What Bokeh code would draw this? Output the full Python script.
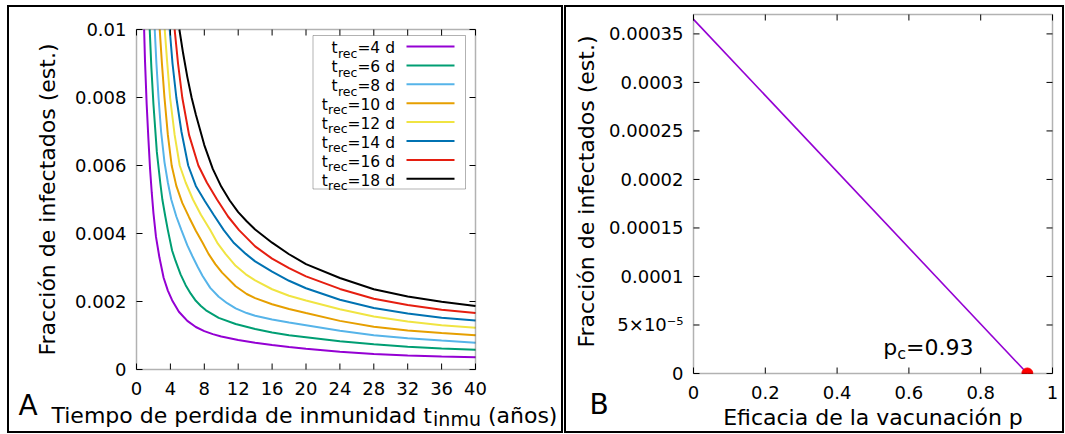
import math
from bokeh.plotting import figure
from bokeh.models import Range1d, Label, BoxAnnotation
from bokeh.core.properties import value
from bokeh.layouts import row
from bokeh.embed import file_html
from bokeh.resources import INLINE

# ---------------- data ----------------
t_rec_days = [4, 6, 8, 10, 12, 14, 16, 18]

t_inmu_4 = [0.9, 1.0, 1.2, 1.4, 1.6, 1.8, 2.0, 2.3, 2.7, 3.2, 3.7, 4.2, 5, 6, 7, 8, 9, 10,
            12, 14, 16, 18, 20, 24, 28, 32, 36, 40]
frac_4 = [0.0100, 0.0091, 0.0078, 0.0068, 0.0059, 0.0052, 0.0046, 0.0039, 0.0033, 0.0027,
          0.00232, 0.00204, 0.00170, 0.00143, 0.00125, 0.00113, 0.00104, 0.00097, 0.00087,
          0.00079, 0.00072, 0.00066, 0.00061, 0.00052, 0.000455, 0.000415, 0.000383, 0.00036]

t_inmu_6 = [1.56, 1.75, 2.0, 2.4, 2.8, 3.05, 3.4, 3.7, 4.2, 4.6, 5.2, 5.8, 6.4, 7.0, 7.6, 8.2,
            9.7, 11.7, 14, 16, 18, 20, 24, 28, 32, 36, 40]
frac_6 = [0.0100, 0.0089, 0.0078, 0.0064, 0.0055, 0.0050, 0.0045, 0.0041, 0.0035, 0.0032,
          0.0028, 0.00248, 0.00223, 0.00202, 0.00187, 0.00174, 0.00152, 0.00134, 0.00119,
          0.00109, 0.00101, 0.00095, 0.00083, 0.00074, 0.00067, 0.00062, 0.00058]

t_inmu_8 = [2.15, 2.35, 2.6, 2.9, 3.3, 3.7, 4.1, 4.7, 5.3, 6.0, 6.6, 7.2, 7.8, 8.7, 9.7, 10.7,
            11.7, 13, 14, 16, 18, 20, 24, 28, 32, 36, 40]
frac_8 = [0.0100, 0.0090, 0.0080, 0.0070, 0.0061, 0.0055, 0.0050, 0.0045, 0.0041, 0.00365,
          0.00333, 0.00303, 0.00275, 0.00240, 0.00214, 0.00195, 0.00180, 0.00166, 0.00158,
          0.00147, 0.00138, 0.00130, 0.00114, 0.00101, 0.00092, 0.00085, 0.00079]

t_inmu_10 = [2.74, 3.0, 3.3, 3.7, 4.15, 4.7, 5.4, 6.2, 7.0, 7.8, 8.5, 9.3, 10.1, 11.7, 13, 14,
             16, 18, 20, 24, 28, 32, 36, 40]
frac_10 = [0.0100, 0.0090, 0.0080, 0.0069, 0.0060, 0.0054, 0.0049, 0.00448, 0.00408, 0.00373,
           0.0034, 0.0031, 0.00285, 0.00245, 0.00222, 0.00210, 0.00192, 0.00178, 0.00166,
           0.00143, 0.00126, 0.00115, 0.00107, 0.00101]

t_inmu_12 = [3.33, 3.6, 3.96, 4.5, 5.1, 5.8, 6.66, 7.6, 8.7, 9.6, 10.5, 11.7, 12.9, 14, 16, 18,
             20, 24, 28, 32, 36, 40]
frac_12 = [0.0100, 0.0091, 0.0080, 0.0069, 0.0060, 0.0055, 0.0050, 0.00455, 0.0041, 0.0037,
           0.0034, 0.00305, 0.00280, 0.00262, 0.00236, 0.00217, 0.00203, 0.00177, 0.00156,
           0.00141, 0.00130, 0.00123]

t_inmu_14 = [3.92, 4.25, 4.7, 5.3, 6.1, 7.0, 8.08, 9.1, 10.3, 11.5, 12.9, 14, 16, 18, 20, 24,
             28, 32, 36, 40]
frac_14 = [0.0100, 0.0090, 0.0080, 0.0070, 0.0060, 0.0054, 0.00495, 0.00455, 0.0041, 0.00372,
           0.0034, 0.00318, 0.00288, 0.00261, 0.00239, 0.00205, 0.00181, 0.00165, 0.00152,
           0.00144]

t_inmu_16 = [4.5, 4.9, 5.4, 6.2, 7.3, 8.3, 9.5, 10.8, 12.1, 14, 16, 18, 20, 24, 28, 32, 36, 40]
frac_16 = [0.0100, 0.0090, 0.0080, 0.0069, 0.0060, 0.0055, 0.0050, 0.0045, 0.0041, 0.00362,
           0.00326, 0.00298, 0.00274, 0.00237, 0.00208, 0.00190, 0.00176, 0.00166]

t_inmu_18 = [5.06, 5.5, 6.0, 6.5, 7.0, 7.5, 8, 9, 10, 11, 12, 13, 14, 16, 18, 20, 24, 28, 32,
             36, 40]
frac_18 = [0.0100, 0.0093, 0.0086, 0.0080, 0.0075, 0.00705, 0.0066, 0.0059, 0.00538, 0.00497,
           0.00463, 0.00436, 0.00412, 0.00373, 0.00339, 0.00310, 0.00269, 0.00236, 0.00215,
           0.00199, 0.00187]

x_ticks_a = [0, 4, 8, 12, 16, 20, 24, 28, 32, 36, 40]
x_tick_labels_a = ["0", "4", "8", "12", "16", "20", "24", "28", "32", "36", "40"]
y_ticks_a = [0, 0.002, 0.004, 0.006, 0.008, 0.01]
y_tick_labels_a = ["0", "0.002", "0.004", "0.006", "0.008", "0.01"]

p_vac = [0.0, 0.93]
frac_vac = [0.000365, 0.0]
p_c = 0.93

x_ticks_b = [0, 0.2, 0.4, 0.6, 0.8, 1.0]
x_tick_labels_b = ["0", "0.2", "0.4", "0.6", "0.8", "1"]
y_ticks_b = [0, 0.00005, 0.0001, 0.00015, 0.0002, 0.00025, 0.0003, 0.00035]
y_tick_labels_b = ["0", "5×10⁻⁵", "0.0001", "0.00015", "0.0002", "0.00025", "0.0003", "0.00035"]

curves_x = [t_inmu_4, t_inmu_6, t_inmu_8, t_inmu_10, t_inmu_12, t_inmu_14, t_inmu_16, t_inmu_18]
curves_y = [frac_4, frac_6, frac_8, frac_10, frac_12, frac_14, frac_16, frac_18]

# ---------------- style / geometry ----------------
COLORS = ["#9400d3", "#009e73", "#56b4e9", "#e69f00", "#f0e442", "#0072b2", "#e51e10", "#000000"]
FONT = "DejaVu Sans"
W = {' ': 0.318, '(': 0.390, ')': 0.390, '.': 0.318, '=': 0.838, 'T': 0.611,
     'a': 0.613, 'c': 0.550, 'd': 0.635, 'e': 0.615, 'i': 0.278, 'm': 0.974, 'n': 0.634,
     'o': 0.612, 'p': 0.635, 'r': 0.411, 's': 0.521, 't': 0.392, 'u': 0.634, 'ñ': 0.634}
for ch in "0123456789":
    W[ch] = 0.636
BASE = 0.806      # distance from the "top" anchor of a text box to its baseline, in em


def tw(s, size):
    return sum(W.get(ch, 0.6) for ch in s) * size


TICK = 6          # inward tick length, px
TICK_FS = 18
BORDER = 2        # panel frame (css border, drawn inside the element box)


class Panel:
    """Maps page pixels to data coordinates for one panel (plot box given in page px)."""

    def __init__(self, box_px, x_lim, y_lim):
        self.bx0, self.bx1, self.by0, self.by1 = box_px
        self.x_lim, self.y_lim = x_lim, y_lim

    def x(self, px):
        return self.x_lim[0] + (px - self.bx0) / (self.bx1 - self.bx0) * (self.x_lim[1] - self.x_lim[0])

    def y(self, py):
        return self.y_lim[0] + (self.by1 - py) / (self.by1 - self.by0) * (self.y_lim[1] - self.y_lim[0])

    def dx(self, px):
        return px / (self.bx1 - self.bx0) * (self.x_lim[1] - self.x_lim[0])

    def dy(self, py):
        return py / (self.by1 - self.by0) * (self.y_lim[1] - self.y_lim[0])


def make_fig(cv, outer_px, w, h):
    # the canvas starts inside the border and keeps the full width/height
    cx, cy = outer_px[0] + BORDER, outer_px[1] + BORDER
    p = figure(width=w, height=h, title=None,
               x_range=Range1d(cv.x(cx), cv.x(cx + w)),
               y_range=Range1d(cv.y(cy + h), cv.y(cy)),
               output_backend="svg", toolbar_location=None,
               x_axis_location=None, y_axis_location=None,
               min_border_left=0, min_border_right=0, min_border_top=0, min_border_bottom=0,
               background_fill_color="white", border_fill_color="white")
    p.xgrid.visible = False
    p.ygrid.visible = False
    p.outline_line_color = None
    p.styles = {"border": f"{BORDER}px solid black"}
    p.add_layout(BoxAnnotation(left=cv.x_lim[0], right=cv.x_lim[1], bottom=cv.y_lim[0],
                               top=cv.y_lim[1], fill_color=None, line_color="black",
                               line_width=1.5, level="overlay"))
    return p


def draw_axes(p, cv, xt, xl, yt, yl):
    x0, x1 = cv.x_lim
    y0, y1 = cv.y_lim
    n, m = len(xt), len(yt)
    # inward ticks on all four sides (mirrored like the original)
    p.segment(x0=xt, y0=[y0] * n, x1=xt, y1=[y0 + cv.dy(TICK)] * n, line_color="black", line_width=1)
    p.segment(x0=xt, y0=[y1] * n, x1=xt, y1=[y1 - cv.dy(TICK)] * n, line_color="black", line_width=1)
    p.segment(x0=[x0] * m, y0=yt, x1=[x0 + cv.dx(TICK)] * m, y1=yt, line_color="black", line_width=1)
    p.segment(x0=[x1] * m, y0=yt, x1=[x1 - cv.dx(TICK)] * m, y1=yt, line_color="black", line_width=1)
    # tick labels: x labels hang 12 px under the box, y labels end 10 px left of it
    p.text(x=xt, y=[y0 - cv.dy(12)] * n, text=xl, text_font=value(FONT),
           text_font_size=value(f"{TICK_FS}px"), text_align="center", text_baseline="top",
           text_color="black")
    p.text(x=[x0 - cv.dx(10)] * m, y=yt, text=yl,
           text_font=value(FONT), text_font_size=value(f"{TICK_FS}px"), text_align="right",
           text_baseline="middle", text_color="black")


def lab(p, cv, x_px, base_px, text, size, align="left", vertical=False):
    """Place text so that its baseline lies at page position base_px."""
    if vertical:
        x = cv.x(base_px - BASE * size)
        y = cv.y(x_px)
        angle = math.pi / 2
    else:
        x = cv.x(x_px)
        y = cv.y(base_px - BASE * size)
        angle = 0.0
    p.add_layout(Label(x=x, y=y, text=text, text_font=FONT, text_font_size=f"{size}px",
                       text_align=align, text_baseline="top", angle=angle,
                       text_color="black"))


# ---------------- panel A ----------------
A = Panel((136, 475, 29, 369), (0, 40), (0, 0.01))
pa = make_fig(A, (7, 5), 556, 428)
for xs, ys, col in zip(curves_x, curves_y, COLORS):
    pa.line(xs, ys, line_color=col, line_width=2)
draw_axes(pa, A, x_ticks_a, x_tick_labels_a, y_ticks_a, y_tick_labels_a)

# legend: text on the left, sample line on the right, boxed
pa.add_layout(BoxAnnotation(left=A.x(312.5), right=A.x(465), top=A.y(35), bottom=A.y(188.5),
                            fill_color=None, line_color="black", line_width=1))
ROW0, ROWH = 46.0, 18.9
rows_y = [ROW0 + ROWH * i for i in range(len(t_rec_days))]
pa.segment(x0=[A.x(406)] * len(rows_y), y0=[A.y(v) for v in rows_y],
           x1=[A.x(454)] * len(rows_y), y1=[A.y(v) for v in rows_y],
           line_color=COLORS, line_width=2)
RIGHT_END = 394.5
FM, FS = 15.5, 12.5
for t, yrow in zip(t_rec_days, rows_y):
    eq = f"={t} d"
    x_rec = RIGHT_END - tw(eq, FM)
    x_t = x_rec - tw("rec", FS)
    lab(pa, A, RIGHT_END, yrow + 5.3, eq, FM, "right")
    lab(pa, A, x_rec, yrow + 9.3, "rec", FS, "right")
    lab(pa, A, x_t, yrow + 5.3, "t", FM, "right")

# axis titles
lab(pa, A, 199, 52, "Fracción de infectados (est.)", 22, "center", vertical=True)
main_txt = "Tiempo de perdida de inmunidad t"
x0 = 51
lab(pa, A, x0, 420, main_txt, 22)
x1 = x0 + tw(main_txt, 22)
lab(pa, A, x1, 422.8, "inmu", 19)
x2 = x1 + tw("inmu", 19) + tw(" ", 22)
lab(pa, A, x2, 420, "(años)", 22)
lab(pa, A, 18, 411, "A", 28)

# ---------------- panel B ----------------
B = Panel((693, 1052, 14, 373), (0, 1.0), (0, 0.00037))
pb = make_fig(B, (564, 5), 500, 428)
pb.line(p_vac, frac_vac, line_color="#9400d3", line_width=1.6)
# critical point: the marker is cut by the lower edge of the plot box, as in the original
pb.wedge(x=[p_c], y=[0.0], radius=5.5, radius_units="screen", start_angle=0,
         end_angle=math.pi, fill_color="#ff0000", line_color="#ff0000")
draw_axes(pb, B, x_ticks_b, x_tick_labels_b, y_ticks_b, y_tick_labels_b)

lab(pb, B, 191, 591, "Fracción de infectados (est.)", 22, "center", vertical=True)
lab(pb, B, 872.5, 422, "Eficacia de la vacunación p", 22, "center")
lab(pb, B, 589, 410, "B", 28)
px0 = 882.7
lab(pb, B, px0, 352, "p", 22)
px1 = px0 + tw("p", 22)
lab(pb, B, px1, 356, "c", 16)
px2 = px1 + tw("c", 16)
lab(pb, B, px2, 352, f"={p_c}", 22)

layout = row(pa, pb, spacing=1, margin=(5, 0, 0, 7))

open("out.html", "w").write(file_html(layout, INLINE))
